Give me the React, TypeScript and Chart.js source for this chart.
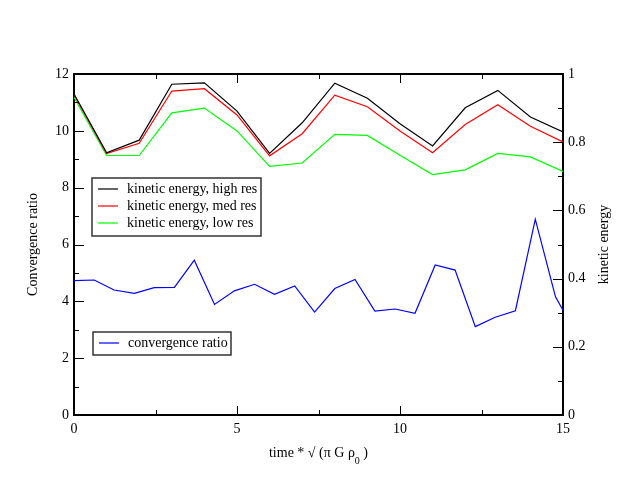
import React, { useRef, useEffect } from 'react';
import { Chart, registerables } from 'chart.js';

// Register all Chart.js components
Chart.register(...registerables);

// kinetic energy, sampled once per time unit
const keTimes = [0, 1, 2, 3, 4, 5, 6, 7, 8, 9, 10, 11, 12, 13, 14, 15];
const keHigh = [0.941, 0.769, 0.806, 0.970, 0.974, 0.891, 0.767, 0.857, 0.973, 0.929, 0.854, 0.789, 0.901, 0.952, 0.874, 0.830];
const keMed = [0.940, 0.767, 0.797, 0.950, 0.957, 0.880, 0.760, 0.825, 0.938, 0.904, 0.833, 0.769, 0.852, 0.910, 0.847, 0.801];
const keLow = [0.932, 0.761, 0.761, 0.886, 0.900, 0.833, 0.729, 0.739, 0.823, 0.820, 0.762, 0.705, 0.719, 0.767, 0.757, 0.714];

// convergence ratio
const ratioTimes = [0, 0.62, 1.23, 1.85, 2.46, 3.08, 3.69, 4.31, 4.92, 5.54, 6.15, 6.77, 7.38, 8.0, 8.62, 9.23, 9.85, 10.46, 11.08, 11.69, 12.31, 12.92, 13.54, 14.15, 14.77, 15];
const ratioValues = [4.73, 4.75, 4.40, 4.28, 4.48, 4.49, 5.45, 3.89, 4.37, 4.60, 4.25, 4.54, 3.62, 4.45, 4.77, 3.66, 3.73, 3.58, 5.28, 5.10, 3.11, 3.44, 3.67, 6.89, 4.16, 3.69];

// axis ticks (empty label = minor tick)
const xTicks = [0, 2.5, 5, 7.5, 10, 12.5, 15];
const xLabels = ['0', '', '5', '', '10', '', '15'];
const leftTicks = [0, 1, 2, 3, 4, 5, 6, 7, 8, 9, 10, 11, 12];
const leftLabels = ['0', '', '2', '', '4', '', '6', '', '8', '', '10', '', '12'];
const rightTicks = [0, 0.1, 0.2, 0.3, 0.4, 0.5, 0.6, 0.7, 0.8, 0.9, 1];
const rightLabels = ['0', '', '0.2', '', '0.4', '', '0.6', '', '0.8', '', '1'];

const FONT = "'Liberation Serif', 'Times New Roman', serif";

const pts = (xs: number[], ys: number[]) => xs.map((x, i) => ({ x, y: ys[i] }));

// inward tick marks, top frame line, axis titles and the two legend boxes
const decorations = {
  id: 'decorations',
  afterDraw(chart: any) {
    const { ctx, chartArea: a, scales } = chart;
    const seg = (x1: number, y1: number, x2: number, y2: number) => {
      ctx.beginPath();
      ctx.moveTo(x1, y1);
      ctx.lineTo(x2, y2);
      ctx.stroke();
    };
    ctx.save();
    ctx.strokeStyle = '#000';
    ctx.lineWidth = 2;
    seg(a.left - 1, a.top, a.right + 1, a.top);

    ctx.lineWidth = 1;
    scales.x.ticks.forEach((t: any, i: number) => {
      const px = Math.round(scales.x.getPixelForValue(t.value)) + 0.5;
      const len = xLabels[i] ? 9 : 5;
      seg(px, a.bottom, px, a.bottom - len);
      seg(px, a.top, px, a.top + len);
    });
    scales.y.ticks.forEach((t: any, i: number) => {
      const py = Math.round(scales.y.getPixelForValue(t.value)) + 0.5;
      seg(a.left, py, a.left + (leftLabels[i] ? 10 : 5), py);
    });
    scales.y1.ticks.forEach((t: any, i: number) => {
      const py = Math.round(scales.y1.getPixelForValue(t.value)) + 0.5;
      seg(a.right, py, a.right - (rightLabels[i] ? 10 : 5), py);
    });

    // axis titles
    ctx.fillStyle = '#000';
    ctx.font = `14px ${FONT}`;
    ctx.textAlign = 'center';
    ctx.textBaseline = 'middle';
    const midY = (a.top + a.bottom) / 2;
    ctx.save();
    ctx.translate(33, midY);
    ctx.rotate(-Math.PI / 2);
    ctx.fillText('Convergence ratio', 0, 0);
    ctx.restore();
    ctx.save();
    ctx.translate(604, midY);
    ctx.rotate(-Math.PI / 2);
    ctx.fillText('kinetic energy', 0, 0);
    ctx.restore();

    const head = 'time * \u221A (\u03C0 G \u03C1';
    const tail = ' )';
    ctx.textAlign = 'left';
    const w1 = ctx.measureText(head).width;
    const w3 = ctx.measureText(tail).width;
    ctx.font = `10px ${FONT}`;
    const w2 = ctx.measureText('0').width;
    let x = (a.left + a.right) / 2 - (w1 + w2 + w3) / 2;
    const ty = 453;
    ctx.font = `14px ${FONT}`;
    ctx.fillText(head, x, ty);
    x += w1;
    ctx.font = `10px ${FONT}`;
    ctx.fillText('0', x, ty + 8);
    x += w2;
    ctx.font = `14px ${FONT}`;
    ctx.fillText(tail, x, ty);

    // legends
    const ds = chart.data.datasets;
    const legend = (idx: number[], bx: number, by: number, bw: number, bh: number, firstRow: number) => {
      ctx.strokeStyle = '#333';
      ctx.lineWidth = 1.5;
      ctx.strokeRect(bx, by, bw, bh);
      idx.forEach((d, r) => {
        const ry = firstRow + r * 17;
        ctx.strokeStyle = ds[d].borderColor;
        ctx.lineWidth = 1.2;
        seg(bx + 6, ry, bx + 26, ry);
        ctx.fillStyle = '#000';
        ctx.fillText(ds[d].label, bx + 35, ry);
      });
    };
    legend([0, 1, 2], 92, 178, 169, 58, 189);
    legend([3], 93, 332, 138, 23, 343);
    ctx.restore();
  },
};

const App: React.FC = () => {
  const chartRef = useRef<HTMLCanvasElement | null>(null);
  const chartInstance = useRef<Chart | null>(null);

  useEffect(() => {
    if (!chartRef.current) return;
    if (chartInstance.current) {
      chartInstance.current.destroy();
    }
    const ctx = chartRef.current.getContext('2d');
    if (!ctx) return;

    Chart.defaults.font.family = FONT;
    Chart.defaults.font.size = 14;
    Chart.defaults.color = '#000';

    const line = (label: string, color: string, data: any, axis: string) => ({
      label,
      data,
      yAxisID: axis,
      borderColor: color,
      backgroundColor: color,
      borderWidth: 1.2,
      pointRadius: 0,
      tension: 0,
      fill: false,
    });

    const axisBase = {
      grid: { display: true, drawOnChartArea: false, drawTicks: false },
      border: { display: true, color: '#000', width: 2 },
    };

    chartInstance.current = new Chart(ctx, {
      type: 'line',
      data: {
        datasets: [
          line('kinetic energy, high res', '#000000', pts(keTimes, keHigh), 'y1'),
          line('kinetic energy, med res', '#ff0000', pts(keTimes, keMed), 'y1'),
          line('kinetic energy, low res', '#00ff00', pts(keTimes, keLow), 'y1'),
          line('convergence ratio', '#0000ff', pts(ratioTimes, ratioValues), 'y'),
        ],
      },
      options: {
        responsive: false,
        animation: false,
        layout: { padding: { top: 74, left: 0, right: 0, bottom: 0 } },
        plugins: {
          legend: { display: false },
          tooltip: { enabled: false },
        },
        scales: {
          x: {
            type: 'linear',
            min: 0,
            max: 15,
            ...axisBase,
            afterBuildTicks: (s: any) => { s.ticks = xTicks.map((value) => ({ value })); },
            afterFit: (s: any) => { s.height = 76; },
            ticks: { autoSkip: false, maxRotation: 0, padding: 6, callback: (_v: any, i: number) => xLabels[i] },
          },
          y: {
            type: 'linear',
            position: 'left',
            min: 0,
            max: 12,
            ...axisBase,
            afterBuildTicks: (s: any) => { s.ticks = leftTicks.map((value) => ({ value })); },
            afterFit: (s: any) => { s.width = 74; },
            ticks: { autoSkip: false, padding: 5, callback: (_v: any, i: number) => leftLabels[i] },
          },
          y1: {
            type: 'linear',
            position: 'right',
            min: 0,
            max: 1,
            ...axisBase,
            afterBuildTicks: (s: any) => { s.ticks = rightTicks.map((value) => ({ value })); },
            afterFit: (s: any) => { s.width = 72; },
            ticks: { autoSkip: false, padding: 5, callback: (_v: any, i: number) => rightLabels[i] },
          },
        },
      },
      plugins: [decorations],
    } as any);

    return () => {
      if (chartInstance.current) {
        chartInstance.current.destroy();
        chartInstance.current = null;
      }
    };
  }, []);

  return (
    <div style={{ position: 'absolute', left: 0, top: 0, width: 635, height: 491, background: '#fff' }}>
      <canvas ref={chartRef} width={635} height={491}></canvas>
    </div>
  );
};

export default App;
